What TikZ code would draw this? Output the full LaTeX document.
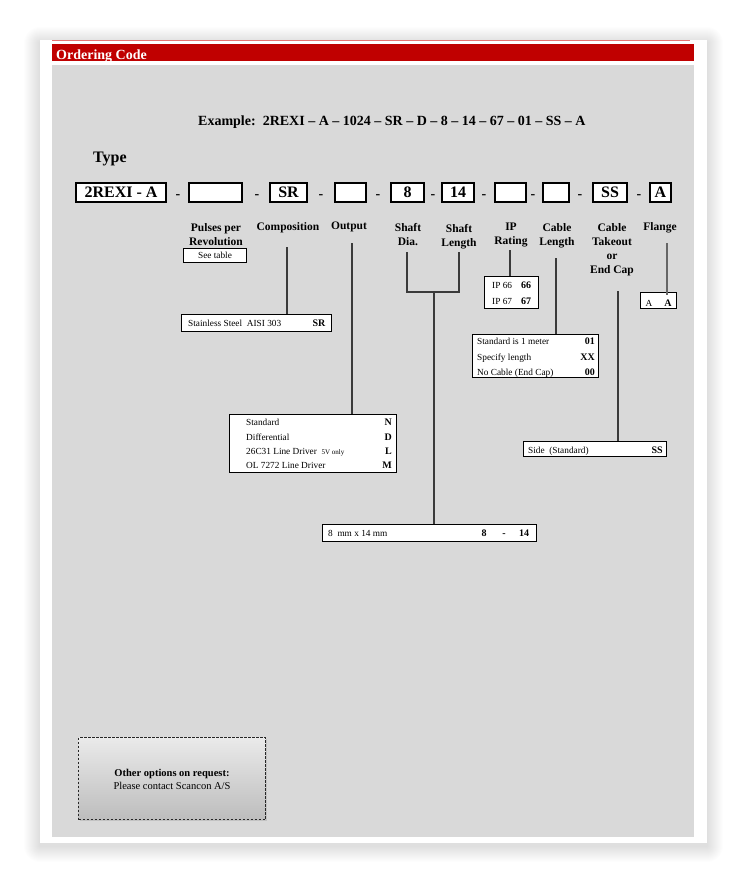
\documentclass[tikz,border=0pt]{standalone}
\usepackage{fontspec}
\setmainfont{Liberation Serif}
\usetikzlibrary{calc,shadows}
\definecolor{barred}{HTML}{C00000}
\definecolor{panel}{HTML}{D9D9D9}
\definecolor{thinred}{HTML}{E57373}
\definecolor{connc}{HTML}{3A3A3A}
\definecolor{shtop}{HTML}{EAEAEA}
\definecolor{shbot}{HTML}{BDBDBD}
\tikzset{
  codebox/.style={draw=black, line width=1.8pt, fill=white, inner sep=0pt, minimum height=19pt, text height=10.6pt, text depth=0pt, font=\fontsize{16}{19}\selectfont\bfseries},
  cdash/.style={anchor=base, inner sep=0pt, font=\fontsize{14}{16}\selectfont\bfseries},
  lbl/.style={anchor=north, inner sep=0pt, align=center, font=\fontsize{11.5}{14}\selectfont\bfseries},
  optbox/.style={draw=black, line width=1.1pt, fill=white, inner sep=0pt},
  otxt/.style={inner sep=0pt, font=\fontsize{9.3}{11}\selectfont},
  ocode/.style={inner sep=0pt, font=\fontsize{10}{12}\selectfont\bfseries},
  conn/.style={draw=connc, line width=1.2pt},
}
\begin{document}
\begin{tikzpicture}[x=1pt,y=-1pt]
\useasboundingbox (0,0) rectangle (747,884);
\fill[white] (0,0) rectangle (747,884);
% card shadow
\foreach \i in {1,...,16}{
  \fill[black, opacity=0.0065, rounded corners=\i pt] (40-\i,40-\i+3) rectangle (707+\i,843+\i+3);
}
\fill[white] (40,40) rectangle (707,843);
% header
\draw[thinred, line width=0.8pt] (52,40.5) -- (690,40.5);
\fill[barred] (52,44) rectangle (694,61);
\node[anchor=base west, inner sep=0pt, text=white, font=\fontsize{14}{16}\selectfont\bfseries] (hdr) at (56,59) {Ordering Code};
\fill[panel] (52,65) rectangle (694,837);

% example and type
\node[anchor=base west, inner sep=0pt, font=\fontsize{14}{16}\selectfont\bfseries] (ex) at (198,125) {Example:\ \ 2REXI – A – 1024 – SR – D – 8 – 14 – 67 – 01 – SS – A};
\node[anchor=base west, inner sep=0pt, font=\fontsize{16}{19}\selectfont\bfseries] (type) at (93,162) {Type};

% code row
\node[codebox, minimum width=90pt] (b1) at (121,192.5) {2REXI - A};
\node[codebox, minimum width=53pt] (b2) at (215.5,192.5) {};
\node[codebox, minimum width=37pt] (b3) at (288.5,192.5) {SR};
\node[codebox, minimum width=31pt] (b4) at (350.5,192.5) {};
\node[codebox, minimum width=33pt] (b5) at (407.5,192.5) {8};
\node[codebox, minimum width=32pt] (b6) at (458,192.5) {14};
\node[codebox, minimum width=31pt] (b7) at (510.5,192.5) {};
\node[codebox, minimum width=26pt] (b8) at (556,192.5) {};
\node[codebox, minimum width=34pt] (b9) at (610,192.5) {SS};
\node[codebox, minimum width=21pt] (b10) at (660.5,192.5) {A};
\node[cdash] (d1) at (178,198) {-};
\node[cdash] (d2) at (257,198) {-};
\node[cdash] (d3) at (321,198) {-};
\node[cdash] (d4) at (378,198) {-};
\node[cdash] (d5) at (433,198) {-};
\node[cdash] (d6) at (484,198) {-};
\node[cdash] (d7) at (533,198) {-};
\node[cdash] (d8) at (580,198) {-};
\node[cdash] (d9) at (639,198) {-};

% labels
\node[lbl] (lpulse) at (216,223) {Pulses per\\Revolution};
\node[lbl] (lcomp) at (288,222) {Composition};
\node[lbl] (lout) at (349,222) {Output};
\node[lbl] (lsd) at (408,223) {Shaft\\Dia.};
\node[lbl] (lsl) at (459,224) {Shaft\\Length};
\node[lbl] (lip) at (511,223) {IP\\Rating};
\node[lbl] (lcl) at (557,223) {Cable\\Length};
\node[lbl] (lto) at (612,223) {Cable\\Takeout\\or\\End Cap};
\node[lbl] (lfl) at (660,222) {Flange};

% option boxes
\node[optbox, minimum width=63pt, minimum height=14pt] (seetab) at (215,255.5) {};
\node[otxt, anchor=base] (seetabt) at (215,258.5) {See table};

\node[optbox, minimum width=150pt, minimum height=17pt] (stain) at (256.5,323) {};
\node[otxt, anchor=base west] (staint) at (188,326) {Stainless Steel\ \ AISI 303};
\node[ocode, anchor=base] (stainc) at (319,326.5) {SR};

\node[optbox, minimum width=167pt, minimum height=58pt] (outb) at (313,443.5) {};
\node[otxt, anchor=base west] (o1) at (246,425) {Standard};
\node[otxt, anchor=base west] (o2) at (246,440) {Differential};
\node[otxt, anchor=base west] (o3) at (246,454) {26C31 Line Driver\ \ {\fontsize{7}{8}\selectfont 5V only}};
\node[otxt, anchor=base west] (o4) at (246,468) {OL 7272 Line Driver};
\node[ocode, anchor=base east] (oc1) at (392,425.5) {N};
\node[ocode, anchor=base east] (oc2) at (392,440.5) {D};
\node[ocode, anchor=base east] (oc3) at (392,454.5) {L};
\node[ocode, anchor=base east] (oc4) at (392,468.5) {M};

\node[optbox, minimum width=214pt, minimum height=17pt] (shaftb) at (429.5,533) {};
\node[otxt, anchor=base west] (sht) at (328,536) {8\ \ mm x 14 mm};
\node[ocode, anchor=base] (shc1) at (484,536.5) {8};
\node[ocode, anchor=base] (shc2) at (504,536.5) {-};
\node[ocode, anchor=base] (shc3) at (524,536.5) {14};

\node[optbox, minimum width=54pt, minimum height=32pt] (ipb) at (511.5,292.5) {};
\node[otxt, anchor=base west] (ip1) at (492,288) {IP 66};
\node[otxt, anchor=base west] (ip2) at (492,304) {IP 67};
\node[ocode, anchor=base] (ipc1) at (526,288.5) {66};
\node[ocode, anchor=base] (ipc2) at (526,304.5) {67};

\node[optbox, minimum width=126pt, minimum height=43pt] (cabb) at (535.5,356) {};
\node[otxt, anchor=base west] (cb1) at (477,344) {Standard is 1 meter};
\node[otxt, anchor=base west] (cb2) at (477,360) {Specify length};
\node[otxt, anchor=base west] (cb3) at (477,375) {No Cable (End Cap)};
\node[ocode, anchor=base east] (cbc1) at (595,344.5) {01};
\node[ocode, anchor=base east] (cbc2) at (595,360.5) {XX};
\node[ocode, anchor=base east] (cbc3) at (595,375.5) {00};

\node[optbox, minimum width=143pt, minimum height=15pt] (sideb) at (595,449) {};
\node[otxt, anchor=base west] (sdt) at (528,453) {Side\ \ (Standard)};
\node[ocode, anchor=base east] (sdc) at (663,453.5) {SS};

\node[optbox, minimum width=36pt, minimum height=16pt] (flb) at (658.5,300.5) {};
\node[otxt, anchor=base] (flt) at (649,306) {A};
\node[ocode, anchor=base] (flc) at (668,306.5) {A};

% connectors
\coordinate (cComp) at (287,247);
\coordinate (cOut) at (352,243);
\coordinate (cSD) at (407,252);
\coordinate (cSL) at (459,252);
\coordinate (cSR) at (459,292);
\coordinate (cSM) at (434,292);
\coordinate (cIP) at (510,250);
\coordinate (cCL) at (556,258);
\coordinate (cTO) at (618,291);
\coordinate (cFL) at (667,243);
\draw[conn] (cComp) -- (cComp |- stain.north);
\draw[conn] (cOut) -- (cOut |- outb.north);
\draw[conn] (cSD) |- (cSR) -- (cSL);
\draw[conn] (cSM) -- (cSM |- shaftb.north);
\draw[conn] (cIP) -- (cIP |- ipb.north);
\draw[conn] (cCL) -- (cCL |- cabb.north);
\draw[conn] (cTO) -- (cTO |- sideb.north);
\draw[draw=gray!80!black, line width=1.2pt] (cFL) -- ($(cFL |- flb.north)+(0,3)$);

% other options box
\node[draw=black!85, dashed, dash pattern=on 2.5pt off 1.5pt, line width=0.8pt, top color=shtop, bottom color=shbot, minimum width=187pt, minimum height=82pt, inner sep=0pt, drop shadow={shadow xshift=1pt, shadow yshift=-1.5pt, opacity=0.25}] (other) at (172,778.5) {};
\node[anchor=base, inner sep=0pt, font=\fontsize{10.5}{12}\selectfont\bfseries] (oth1) at (172,776.5) {Other options on request:};
\node[anchor=base, inner sep=0pt, font=\fontsize{10.5}{12}\selectfont] (oth2) at (172,789.5) {Please contact Scancon A/S};
\end{tikzpicture}
\end{document}
